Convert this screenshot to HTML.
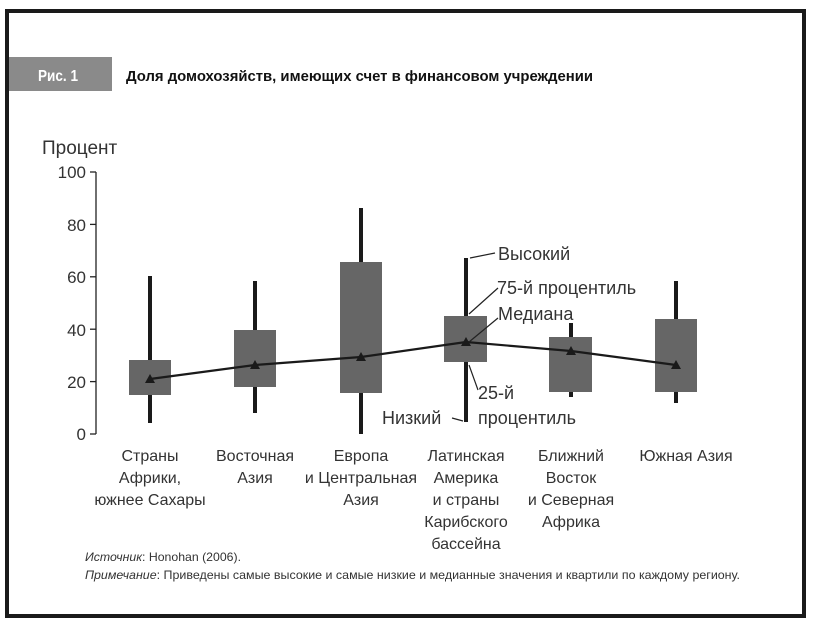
<!DOCTYPE html>
<html><head><meta charset="utf-8"><style>
body{margin:0;background:#fff;}
svg{display:block;font-family:"Liberation Sans",sans-serif;}
</style></head><body>
<svg width="817" height="631" viewBox="0 0 817 631">
<rect x="7" y="11" width="797" height="605" fill="none" stroke="#1a1a1a" stroke-width="4"/>
<rect x="9" y="57" width="103" height="34" fill="#8a8a8a"/>
<text x="38" y="81" font-size="16" font-weight="bold" fill="#fff" textLength="40" lengthAdjust="spacingAndGlyphs">Рис. 1</text>
<text x="126" y="81" font-size="15" font-weight="bold" fill="#111" textLength="467" lengthAdjust="spacingAndGlyphs">Доля домохозяйств, имеющих счет в финансовом учреждении</text>
<text x="42" y="154" font-size="19" fill="#333">Процент</text>
<g font-size="17" fill="#333" text-anchor="end">
<text x="86" y="178">100</text><text x="86" y="231">80</text><text x="86" y="283">60</text><text x="86" y="336">40</text><text x="86" y="388">20</text><text x="86" y="440">0</text>
</g>
<g stroke="#222" stroke-width="1.3">
<line x1="96" y1="172" x2="96" y2="434"/>
<line x1="90" y1="172" x2="96" y2="172"/><line x1="90" y1="224.4" x2="96" y2="224.4"/><line x1="90" y1="276.8" x2="96" y2="276.8"/><line x1="90" y1="329.2" x2="96" y2="329.2"/><line x1="90" y1="381.6" x2="96" y2="381.6"/><line x1="90" y1="434" x2="96" y2="434"/>
</g>
<g stroke="#1a1a1a" stroke-width="4">
<line x1="150" y1="276" x2="150" y2="423"/>
<line x1="255" y1="281" x2="255" y2="413"/>
<line x1="361" y1="208" x2="361" y2="434"/>
<line x1="466" y1="258" x2="466" y2="422"/>
<line x1="571" y1="323" x2="571" y2="397"/>
<line x1="676" y1="281" x2="676" y2="403"/>
</g>
<g fill="#666">
<rect x="129" y="360" width="42" height="35"/>
<rect x="234" y="330" width="42" height="57"/>
<rect x="340" y="262" width="42" height="131"/>
<rect x="444" y="316" width="43" height="46"/>
<rect x="549" y="337" width="43" height="55"/>
<rect x="655" y="319" width="42" height="73"/>
</g>
<polyline points="150,379 255,365 361,357 466,342 571,351 676,365" fill="none" stroke="#1a1a1a" stroke-width="2.2"/>
<g fill="#1a1a1a">
<polygon points="150,374 155,383 145,383"/><polygon points="255,360 260,369 250,369"/><polygon points="361,352 366,361 356,361"/><polygon points="466,337 471,346 461,346"/><polygon points="571,346 576,355 566,355"/><polygon points="676,360 681,369 671,369"/>
</g>
<g stroke="#222" stroke-width="1.2" fill="none">
<line x1="470" y1="258" x2="495" y2="253"/>
<line x1="469" y1="314" x2="498" y2="288"/>
<line x1="469" y1="342" x2="498" y2="318"/>
<line x1="469" y1="365" x2="478" y2="390"/>
<line x1="452" y1="418" x2="463" y2="421"/>
</g>
<g font-size="18" fill="#333">
<text x="498" y="260">Высокий</text>
<text x="497" y="294">75-й процентиль</text>
<text x="498" y="320">Медиана</text>
<text x="478" y="399">25-й</text>
<text x="478" y="424">процентиль</text>
<text x="382" y="424">Низкий</text>
</g>
<g font-size="16" fill="#333" text-anchor="middle">
<text x="150" y="461">Страны</text><text x="150" y="483">Африки,</text><text x="150" y="505">южнее Сахары</text>
<text x="255" y="461">Восточная</text><text x="255" y="483">Азия</text>
<text x="361" y="461">Европа</text><text x="361" y="483">и Центральная</text><text x="361" y="505">Азия</text>
<text x="466" y="461">Латинская</text><text x="466" y="483">Америка</text><text x="466" y="505">и страны</text><text x="466" y="527">Карибского</text><text x="466" y="549">бассейна</text>
<text x="571" y="461">Ближний</text><text x="571" y="483">Восток</text><text x="571" y="505">и Северная</text><text x="571" y="527">Африка</text>
<text x="686" y="461">Южная Азия</text>
</g>
<g font-size="12" fill="#333">
<text x="85" y="561" textLength="156" lengthAdjust="spacingAndGlyphs"><tspan font-style="italic">Источник</tspan>: Honohan (2006).</text>
<text x="85" y="579" textLength="655" lengthAdjust="spacingAndGlyphs"><tspan font-style="italic">Примечание</tspan>: Приведены самые высокие и самые низкие и медианные значения и квартили по каждому региону.</text>
</g>
</svg>
</body></html>
